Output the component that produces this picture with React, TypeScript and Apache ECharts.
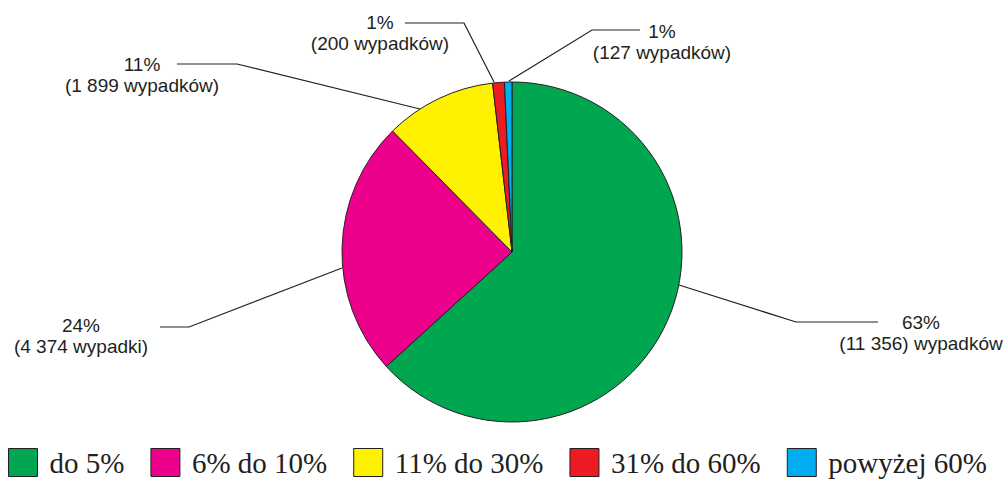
import React, { useEffect, useRef } from "react";
import * as echarts from "echarts";

const categories = ["do 5%", "6% do 10%", "11% do 30%", "31% do 60%", "powyżej 60%"];
const accidents = [11356, 4374, 1899, 200, 127];
const percentLabels = ["63%", "24%", "11%", "1%", "1%"];
const countLabels = [
  "(11 356) wypadków",
  "(4 374 wypadki)",
  "(1 899 wypadków)",
  "(200 wypadków)",
  "(127 wypadków)",
];
const colors = ["#00a650", "#ec008c", "#fff200", "#ed1c24", "#00aeef"];

// label placement: text centre x, text top y, leader line points
const labelPlacement = [
  { x: 921, y: 312, line: [[679, 285], [796, 322], [878, 322]] },
  { x: 81, y: 315, line: [[342, 268], [189, 327], [160, 327]] },
  { x: 142, y: 54, line: [[420, 109], [237, 64], [177, 64]] },
  { x: 380, y: 12, line: [[494, 82], [464, 23], [405, 23]] },
  { x: 662, y: 21, line: [[509, 81], [592, 30], [640, 30]] },
];

export default function App() {
  const ref = useRef<HTMLDivElement>(null);
  useEffect(() => {
    if (!ref.current) return;
    const chart = echarts.init(ref.current, null, { renderer: "svg" });
    const dark = "#231f20";
    chart.setOption({
      animation: false,
      backgroundColor: "#ffffff",
      legend: {
        left: 8,
        top: 448,
        padding: 0,
        itemWidth: 29,
        itemHeight: 28,
        itemGap: 26,
        icon: "rect",
        itemStyle: { borderColor: dark, borderWidth: 1 },
        textStyle: {
          fontFamily: "'Liberation Serif', 'Times New Roman', serif",
          fontSize: 29,
          color: dark,
          padding: [0, 0, 0, 7],
        },
        data: categories,
      },
      series: [
        {
          type: "pie",
          center: [512, 252],
          radius: 170,
          startAngle: 90,
          clockwise: true,
          avoidLabelOverlap: false,
          itemStyle: { borderColor: dark, borderWidth: 1 },
          label: {
            show: true,
            position: "outside",
            fontFamily: "'Liberation Sans', Arial, sans-serif",
            fontSize: 19,
            lineHeight: 21,
            color: dark,
            align: "center",
            formatter: (p: any) => percentLabels[p.dataIndex] + "\n" + countLabels[p.dataIndex],
          },
          labelLine: {
            show: true,
            lineStyle: { color: dark, width: 1.2 },
          },
          labelLayout: (p: any) => {
            const l = labelPlacement[p.dataIndex];
            return {
              x: l.x,
              y: l.y,
              align: "center",
              verticalAlign: "top",
              labelLinePoints: l.line,
            };
          },
          emphasis: { disabled: true },
          data: categories.map((c, i) => ({
            name: c,
            value: accidents[i],
            itemStyle: { color: colors[i] },
          })),
        },
      ],
    });
    return () => chart.dispose();
  }, []);
  return (
    <div
      ref={ref}
      style={{ position: "fixed", left: 0, top: 0, width: 1008, height: 485 }}
    />
  );
}
